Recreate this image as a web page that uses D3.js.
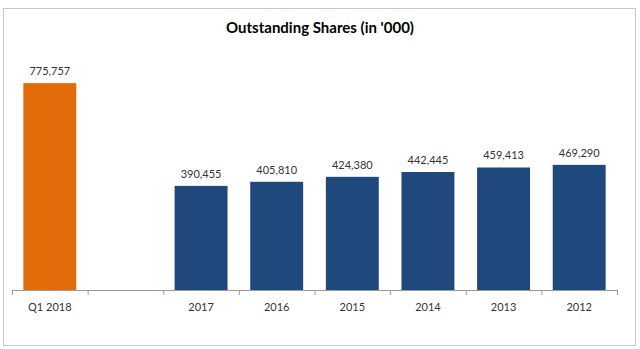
<!DOCTYPE html>
<html>
<head>
<meta charset="utf-8">
<script src="https://cdn.jsdelivr.net/npm/d3@7"></script>
<style>
  html, body { margin: 0; padding: 0; background: #fff; }
  svg { display: block; font-family: Lato, "Open Sans", sans-serif; }
</style>
</head>
<body>
<svg id="chart" width="640" height="349"></svg>
<script>
// Outstanding shares in thousands, by period
const categories = ["Q1 2018", "", "2017", "2016", "2015", "2014", "2013", "2012"];
const values = [775757, null, 390455, 405810, 424380, 442445, 459413, 469290];
const barColors = ["#E36C0A", null, "#1F497D", "#1F497D", "#1F497D", "#1F497D", "#1F497D", "#1F497D"];
const yMax = 900000;
const title = "Outstanding Shares (in '000)";

const svg = d3.select("#chart");
const W = 640, H = 349;

// chart frame
svg.append("rect")
  .attr("x", 3.5).attr("y", 8.5)
  .attr("width", 632).attr("height", 337)
  .attr("fill", "#fff")
  .attr("stroke", "#c8c8c8").attr("stroke-width", 1);

const plot = { left: 12, right: 617, top: 50, bottom: 290 };

const x = d3.scaleBand()
  .domain(d3.range(categories.length))
  .range([plot.left, plot.right])
  .paddingInner(0.3).paddingOuter(0.15);

const y = d3.scaleLinear().domain([0, yMax]).range([plot.bottom, plot.top]);

svg.append("text")
  .attr("x", 320).attr("y", 33)
  .attr("text-anchor", "middle")
  .attr("font-size", 15).attr("font-weight", "bold")
  .attr("fill", "#000")
  .text(title);

const data = categories.map((c, i) => ({ i, c, v: values[i], color: barColors[i] }))
  .filter(d => d.v != null);

svg.append("g").selectAll("rect").data(data).join("rect")
  .attr("x", d => x(d.i))
  .attr("width", x.bandwidth())
  .attr("y", d => y(d.v))
  .attr("height", d => y(0) - y(d.v))
  .attr("fill", d => d.color);

svg.append("g").selectAll("text").data(data).join("text")
  .attr("x", d => x(d.i) + x.bandwidth() / 2)
  .attr("y", d => y(d.v) - 8)
  .attr("text-anchor", "middle")
  .attr("font-size", 11)
  .attr("fill", "#333")
  .text(d => d3.format(",")(d.v));

// category axis with ticks between bands
const step = x.step();
const xAxis = svg.append("g").attr("transform", `translate(0,${plot.bottom})`);
xAxis.append("line")
  .attr("x1", plot.left).attr("x2", plot.right)
  .attr("stroke", "#9a9a9a").attr("stroke-width", 1)
  .attr("transform", "translate(0,0.5)");
xAxis.selectAll("line.tick").data(d3.range(categories.length + 1)).join("line")
  .attr("class", "tick")
  .attr("x1", i => plot.left + i * step + 0.5)
  .attr("x2", i => plot.left + i * step + 0.5)
  .attr("y1", 0).attr("y2", 5)
  .attr("stroke", "#9a9a9a");
xAxis.selectAll("text").data(categories.map((c, i) => ({ c, i }))).join("text")
  .attr("x", d => x(d.i) + x.bandwidth() / 2)
  .attr("y", 21)
  .attr("text-anchor", "middle")
  .attr("font-size", 11)
  .attr("fill", "#333")
  .text(d => d.c);
</script>
</body>
</html>
